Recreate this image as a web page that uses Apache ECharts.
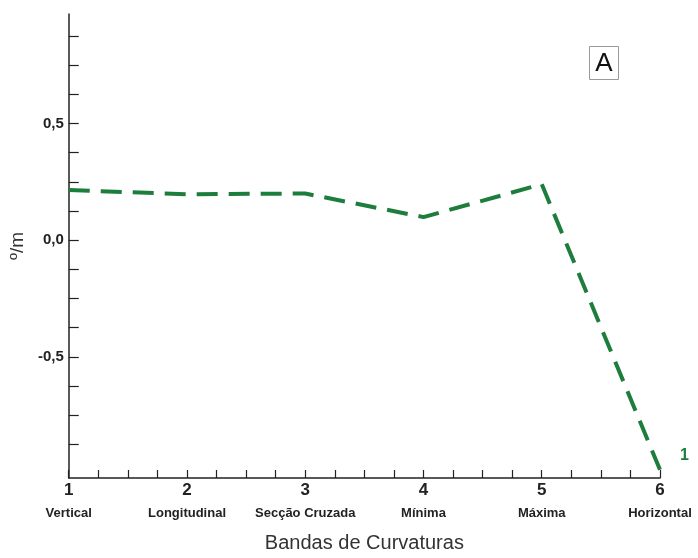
<!DOCTYPE html>
<html>
<head>
<meta charset="utf-8">
<script src="https://cdn.jsdelivr.net/npm/echarts@6/dist/echarts.min.js"></script>
<style>
  html, body { margin: 0; padding: 0; background: #fff; }
  #chart { width: 698px; height: 558px; }
</style>
</head>
<body>
<div id="chart"></div>
<script>
// Curvature bands (x positions 1..6) and their names
const bandPositions = [1, 2, 3, 4, 5, 6];
const bandNames = ['Vertical', 'Longitudinal', 'Secção Cruzada', 'Mínima', 'Máxima', 'Horizontal'];
// Mean value per band, in º/m
const seriesValues = [0.215, 0.197, 0.20, 0.099, 0.24, -0.985];
const seriesName = '1';
// Y axis labelled and minor tick positions
const yLabelValues = [-0.5, 0, 0.5];
const yTickValues = [-0.875, -0.75, -0.625, -0.5, -0.375, -0.25, -0.125, 0,
  0.125, 0.25, 0.375, 0.5, 0.625, 0.75, 0.875];
const panelLetter = 'A';

const green = '#1d7d3c';
const ink = '#222222';
const sans = 'Liberation Sans, Arial, sans-serif';

const chart = echarts.init(document.getElementById('chart'), null, { renderer: 'canvas' });

chart.setOption({
  animation: false,
  backgroundColor: '#ffffff',
  grid: { left: 67, right: 38, top: 14, bottom: 80, containLabel: false },
  xAxis: {
    type: 'value',
    min: 1,
    max: 6,
    interval: 1,
    name: 'Bandas de Curvaturas',
    nameLocation: 'middle',
    nameGap: 55,
    nameTextStyle: { fontFamily: sans, fontSize: 20, color: '#333' },
    axisLine: { show: true, onZero: false, lineStyle: { color: ink, width: 1.5 } },
    axisTick: { show: true, inside: true, length: 8, lineStyle: { color: ink, width: 1.2 } },
    minorTick: { show: true, splitNumber: 4, length: 8, lineStyle: { color: ink, width: 1.2 } },
    splitLine: { show: false },
    minorSplitLine: { show: false },
    axisLabel: {
      margin: 2,
      formatter: function (v) {
        const i = bandPositions.indexOf(v);
        return '{n|' + v + '}\n{c|' + (i >= 0 ? bandNames[i] : '') + '}';
      },
      rich: {
        n: { fontFamily: sans, fontWeight: 'bold', fontSize: 17, color: ink, lineHeight: 20, align: 'center' },
        c: { fontFamily: sans, fontWeight: 'bold', fontSize: 13, color: ink, lineHeight: 26, align: 'center' }
      }
    }
  },
  yAxis: {
    type: 'value',
    min: -1.02,
    max: 0.97,
    name: 'º/m',
    nameLocation: 'middle',
    nameGap: 38,
    nameRotate: 90,
    nameTextStyle: { fontFamily: sans, fontSize: 19, color: '#333' },
    axisLine: { show: true, onZero: false, lineStyle: { color: ink, width: 1.5 } },
    axisTick: { show: true, inside: true, length: 10, customValues: yTickValues, lineStyle: { color: ink, width: 1.2 } },
    splitLine: { show: false },
    axisLabel: {
      customValues: yLabelValues,
      margin: 5,
      fontFamily: sans,
      fontWeight: 'bold',
      fontSize: 15,
      color: ink,
      formatter: function (v) { return v.toFixed(1).replace('.', ','); }
    }
  },
  series: [{
    name: seriesName,
    type: 'line',
    data: bandPositions.map((x, i) => [x, seriesValues[i]]),
    symbol: 'none',
    lineStyle: { color: green, width: 4, type: [21, 11] },
    endLabel: {
      show: true,
      formatter: seriesName,
      color: green,
      fontFamily: sans,
      fontWeight: 'bold',
      fontSize: 16,
      offset: [12, -14]
    }
  }],
  graphic: [{
    type: 'group',
    left: 589,
    top: 46,
    children: [
      { type: 'rect', shape: { x: 0, y: 0, width: 29, height: 33 },
        style: { fill: '#fff', stroke: '#9a9a9a', lineWidth: 1 } },
      { type: 'text', style: { x: 14.5, y: 17, text: panelLetter, align: 'center', verticalAlign: 'middle',
        font: '26px "Liberation Sans", Arial, sans-serif', fill: '#111' } }
    ]
  }]
});
</script>
</body>
</html>
